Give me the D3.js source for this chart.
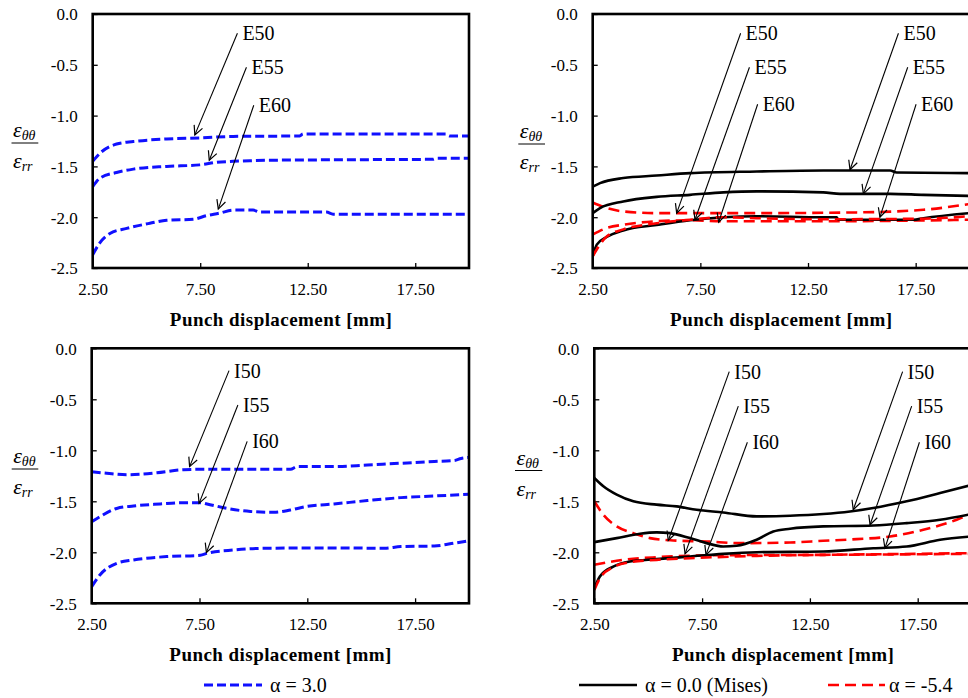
<!DOCTYPE html>
<html>
<head>
<meta charset="utf-8">
<script src="https://cdn.jsdelivr.net/npm/d3@7"></script>
<style>
  html, body { margin: 0; padding: 0; background: #fff; }
  svg { display: block; }
  svg text { font-family: "Liberation Serif", "DejaVu Serif", serif; }
</style>
</head>
<body>
<svg id="chart" width="968" height="698"></svg>
<script>
// ---------------- DATA ----------------
const xDomain = [2.5, 20];
const yDomain = [-2.5, 0];
const xTicks = [2.5, 7.5, 12.5, 17.5];
const yTicks = [0, -0.5, -1.0, -1.5, -2.0, -2.5];
const xTitle = "Punch displacement [mm]";
const legendLabels = ["α = 3.0", "α = 0.0 (Mises)", "α = -5.4"];
const labelsE = ["E50", "E55", "E60"];
const labelsI = ["I50", "I55", "I60"];

// Panel 1: E series, alpha = 3.0
const a3_E50 = [[2.5,-1.45],[2.84,-1.37],[3.61,-1.28],[4.39,-1.255],[5.94,-1.23],[7.48,-1.22],[9.03,-1.205],[12.13,-1.20],[12.28,-1.18],[13.68,-1.18],[18.94,-1.18],[19.09,-1.20],[20,-1.20]];
const a3_E55 = [[2.5,-1.70],[2.84,-1.615],[3.61,-1.56],[4.39,-1.527],[5.94,-1.50],[7.48,-1.485],[8.26,-1.46],[9.03,-1.45],[9.81,-1.445],[10.58,-1.44],[13.68,-1.435],[18.32,-1.43],[18.48,-1.42],[20,-1.42]];
const a3_E60 = [[2.5,-2.37],[2.84,-2.25],[3.30,-2.16],[4.08,-2.11],[5.16,-2.06],[5.94,-2.03],[7.17,-2.02],[7.79,-1.985],[8.41,-1.96],[9.03,-1.93],[9.96,-1.93],[10.27,-1.95],[13.37,-1.95],[13.68,-1.97],[20,-1.97]];

// Panel 2: E series, alpha = 0.0 (Mises) and alpha = -5.4
const a0_E50 = [[2.5,-1.70],[2.84,-1.665],[3.92,-1.615],[5.47,-1.59],[7.02,-1.566],[10.12,-1.55],[13.21,-1.54],[16.31,-1.54],[16.62,-1.56],[20,-1.566]];
const a0_E55 = [[2.5,-1.96],[2.84,-1.91],[3.92,-1.845],[5.47,-1.80],[7.02,-1.78],[8.57,-1.756],[10.12,-1.746],[13.21,-1.756],[13.99,-1.77],[16.31,-1.77],[17.86,-1.78],[20,-1.79]];
const a0_E60 = [[2.5,-2.385],[2.69,-2.27],[3.15,-2.195],[3.92,-2.13],[5.47,-2.077],[7.02,-2.03],[8.57,-2.0],[10.12,-1.99],[13.21,-2.0],[13.83,-2.0],[13.91,-2.025],[17.39,-2.025],[17.86,-2.01],[20,-1.96]];
const am54_E50 = [[2.5,-1.855],[3.15,-1.91],[3.92,-1.943],[5.47,-1.96],[7.02,-1.96],[10.12,-1.96],[14.76,-1.953],[17.86,-1.927],[20,-1.87]];
const am54_E55 = [[2.5,-2.17],[3.15,-2.107],[3.92,-2.074],[5.47,-2.04],[7.02,-2.03],[8.57,-2.04],[13.21,-2.04],[20,-2.025]];
const am54_E60 = [[2.5,-2.385],[3.15,-2.19],[3.92,-2.12],[5.47,-2.06],[7.02,-2.025],[8.57,-2.0],[10.12,-2.01],[13.21,-2.02],[17.86,-2.015],[20,-1.99]];

// Panel 3: I series, alpha = 3.0
const a3_I50 = [[2.5,-1.21],[3.20,-1.225],[4.13,-1.24],[4.75,-1.235],[5.52,-1.22],[6.76,-1.19],[7.54,-1.186],[10.64,-1.186],[11.72,-1.186],[12.03,-1.16],[13.74,-1.16],[15.29,-1.144],[16.84,-1.127],[18.39,-1.11],[19.32,-1.10],[19.63,-1.08],[20,-1.07]];
const a3_I55 = [[2.5,-1.70],[2.89,-1.65],[3.66,-1.57],[4.44,-1.546],[5.68,-1.526],[6.76,-1.513],[7.54,-1.513],[7.85,-1.526],[8.78,-1.57],[9.86,-1.60],[10.95,-1.608],[11.72,-1.585],[12.50,-1.55],[13.74,-1.526],[15.29,-1.493],[16.84,-1.464],[18.39,-1.448],[20,-1.43]];
const a3_I60 = [[2.5,-2.337],[2.89,-2.22],[3.66,-2.108],[4.44,-2.075],[5.99,-2.042],[7.54,-2.03],[7.85,-2.01],[9.09,-1.977],[10.64,-1.96],[13.74,-1.957],[16.07,-1.96],[16.84,-1.944],[18.39,-1.938],[19.32,-1.91],[20,-1.886]];

// Panel 4: I series, alpha = 0.0 (Mises) and alpha = -5.4
const a0_I50 = [[2.5,-1.271],[2.92,-1.353],[3.54,-1.435],[4.31,-1.50],[5.39,-1.533],[6.32,-1.55],[7.25,-1.583],[8.48,-1.609],[10.03,-1.648],[11.58,-1.642],[13.12,-1.625],[14.36,-1.60],[15.44,-1.566],[16.99,-1.50],[18.54,-1.419],[20,-1.34]];
const a0_I55 = [[2.5,-1.90],[3.54,-1.861],[4.62,-1.818],[5.39,-1.805],[6.01,-1.812],[6.94,-1.861],[7.71,-1.91],[8.48,-1.943],[9.10,-1.936],[10.03,-1.877],[10.80,-1.796],[11.58,-1.769],[13.12,-1.746],[15.44,-1.737],[16.99,-1.714],[18.54,-1.681],[20,-1.625]];
const a0_I60 = [[2.5,-2.353],[2.76,-2.238],[3.38,-2.14],[4.15,-2.09],[5.39,-2.067],[6.94,-2.041],[8.48,-2.015],[10.03,-1.999],[13.12,-1.992],[15.44,-1.96],[16.99,-1.943],[18.54,-1.877],[20,-1.845]];
const am54_I50 = [[2.5,-1.50],[2.92,-1.632],[3.54,-1.746],[4.31,-1.812],[5.08,-1.861],[6.16,-1.884],[7.71,-1.894],[9.25,-1.91],[11.58,-1.904],[13.12,-1.887],[14.67,-1.871],[16.22,-1.845],[17.76,-1.779],[19.31,-1.681],[20,-1.62]];
const am54_I55 = [[2.5,-2.123],[3.85,-2.074],[5.39,-2.048],[8.48,-2.028],[13.12,-2.025],[20,-2.015]];
const am54_I60 = [[2.5,-2.369],[2.76,-2.254],[3.38,-2.146],[4.15,-2.097],[5.39,-2.074],[6.94,-2.058],[10.03,-2.035],[13.12,-2.025],[16.22,-2.018],[20,-2.008]];

// Annotation arrows: [tailX, tailY, tipX, tipY] in data units
const arrows1 = [[9.23,-0.19,7.25,-1.19],[9.65,-0.524,7.92,-1.44],[9.99,-0.898,8.34,-1.92]];
const arrows2 = [[9.37,-0.19,6.40,-1.96],[9.78,-0.524,7.25,-2.025],[10.16,-0.888,8.35,-2.05],
                 [16.70,-0.19,14.45,-1.533],[17.13,-0.524,15.07,-1.77],[17.52,-0.888,15.84,-2.0]];
const arrows3 = [[8.87,-0.219,7.04,-1.16],[9.28,-0.556,7.48,-1.52],[9.71,-0.912,7.82,-2.003]];
const arrows4 = [[8.76,-0.229,5.93,-1.884],[9.18,-0.567,6.71,-2.015],[9.60,-0.921,7.68,-2.025],
                 [16.80,-0.229,14.51,-1.583],[17.22,-0.567,15.29,-1.73],[17.58,-0.921,15.98,-1.96]];

// ---------------- STYLES ----------------
const SERIF = "'Liberation Serif', 'DejaVu Serif', serif";
const styles = {
  blue:  { stroke: "#1010ff", width: 3,   dash: "9,4" },
  black: { stroke: "#000000", width: 2.6, dash: null },
  red:   { stroke: "#ff0000", width: 2.6, dash: "11,6" }
};

const panels = [
  { x0: 92.7, x1: 469,   y0: 14,    y1: 268,   frac: [11.5, 38.3, 143],
    series: [[a3_E50,"blue"],[a3_E55,"blue"],[a3_E60,"blue"]],
    arrows: arrows1, labels: labelsE },
  { x0: 592.7, x1: 969.5, y0: 14,   y1: 268,   frac: [518.3, 545, 144],
    series: [[am54_E50,"red"],[am54_E55,"red"],[a0_E50,"black"],[a0_E55,"black"],[a0_E60,"black"],[am54_E60,"red"]],
    arrows: arrows2, labels: labelsE.concat(labelsE) },
  { x0: 91.7, x1: 469,   y0: 348.3, y1: 603.3, frac: [11.7, 38.3, 469],
    series: [[a3_I50,"blue"],[a3_I55,"blue"],[a3_I60,"blue"]],
    arrows: arrows3, labels: labelsI },
  { x0: 594.3, x1: 971.6, y0: 348.3, y1: 603.3, frac: [515, 542.3, 470.5],
    series: [[am54_I50,"red"],[am54_I55,"red"],[a0_I50,"black"],[a0_I55,"black"],[a0_I60,"black"],[am54_I60,"red"]],
    arrows: arrows4, labels: labelsI.concat(labelsI) }
];

// ---------------- DRAW ----------------
const svg = d3.select("#chart");
const defs = svg.append("defs");
defs.append("marker")
  .attr("id", "ah")
  .attr("viewBox", "-10 -6 12 12")
  .attr("refX", 0).attr("refY", 0)
  .attr("markerWidth", 12).attr("markerHeight", 12)
  .attr("markerUnits", "userSpaceOnUse")
  .attr("orient", "auto")
  .append("path")
  .attr("d", "M-9,-4.5 L0,0 L-9,4.5")
  .attr("fill", "none").attr("stroke", "#000").attr("stroke-width", 1.2);

panels.forEach((p, i) => {
  const x = d3.scaleLinear().domain(xDomain).range([p.x0, p.x1]);
  const y = d3.scaleLinear().domain(yDomain).range([p.y1, p.y0]);
  const g = svg.append("g");

  defs.append("clipPath").attr("id", "clip" + i)
    .append("rect").attr("x", p.x0).attr("y", p.y0)
    .attr("width", p.x1 - p.x0).attr("height", p.y1 - p.y0);

  // axes with inside ticks
  const yAxis = d3.axisLeft(y).tickValues(yTicks).tickSizeInner(-5).tickSizeOuter(0)
    .tickPadding(15).tickFormat(d => d.toFixed(1));
  const xAxis = d3.axisBottom(x).tickValues(xTicks).tickSizeInner(-5).tickSizeOuter(0)
    .tickPadding(16).tickFormat(d => d.toFixed(2));

  const ya = g.append("g").attr("transform", `translate(${p.x0},0)`).call(yAxis);
  const xa = g.append("g").attr("transform", `translate(0,${p.y1})`).call(xAxis);
  [ya, xa].forEach(a => {
    a.attr("font-family", null).attr("font-size", null);
    a.select(".domain").remove();
    a.selectAll(".tick line").attr("stroke", "#000").attr("stroke-width", 1.3);
    a.selectAll(".tick text").style("font-family", SERIF)
      .style("font-size", "17px").attr("fill", "#000");
  });
  ya.selectAll(".tick text").attr("dy", "0.35em");
  xa.selectAll(".tick text").attr("dy", "0.62em");

  // series
  const line = d3.line().x(d => x(d[0])).y(d => y(d[1])).curve(d3.curveMonotoneX);
  const sg = g.append("g").attr("clip-path", `url(#clip${i})`);
  p.series.forEach(([data, st]) => {
    const s = styles[st];
    sg.append("path").datum(data).attr("d", line)
      .attr("fill", "none").attr("stroke", s.stroke)
      .attr("stroke-width", s.width)
      .attr("stroke-dasharray", s.dash)
      .attr("stroke-linejoin", "round");
  });

  // frame
  g.append("rect").attr("x", p.x0).attr("y", p.y0)
    .attr("width", p.x1 - p.x0).attr("height", p.y1 - p.y0)
    .attr("fill", "none").attr("stroke", "#000").attr("stroke-width", 2.6);

  // arrows and labels
  p.arrows.forEach((a, k) => {
    g.append("line")
      .attr("x1", x(a[0])).attr("y1", y(a[1]))
      .attr("x2", x(a[2])).attr("y2", y(a[3]))
      .attr("stroke", "#000").attr("stroke-width", 1.1)
      .attr("marker-end", "url(#ah)");
    g.append("text")
      .attr("x", x(a[0]) + 5).attr("y", y(a[1]) + 7)
      .style("font-family", SERIF).style("font-size", "20px").attr("fill", "#000")
      .text(p.labels[k]);
  });

  // x-axis title
  g.append("text")
    .attr("x", (p.x0 + p.x1) / 2).attr("y", p.y1 + 58)
    .attr("text-anchor", "middle")
    .style("font-family", SERIF).style("font-size", "19px").style("font-weight", "bold")
    .attr("textLength", 222).attr("lengthAdjust", "spacing")
    .text(xTitle);

  // y-axis label: fraction eps_thetatheta / eps_rr
  const [fx0, fx1, fy] = p.frac;
  const num = g.append("text").attr("x", fx0 + 1.5).attr("y", fy - 6)
    .style("font-family", SERIF).style("font-style", "italic").style("font-size", "22px");
  num.append("tspan").text("ε");
  num.append("tspan").style("font-size", "14px").attr("dy", 3).text("θθ");
  g.append("line").attr("x1", fx0).attr("x2", fx1).attr("y1", fy).attr("y2", fy)
    .attr("stroke", "#000").attr("stroke-width", 1);
  const den = g.append("text").attr("x", fx0 + 1.5).attr("y", fy + 25)
    .style("font-family", SERIF).style("font-style", "italic").style("font-size", "22px");
  den.append("tspan").text("ε");
  den.append("tspan").style("font-size", "14px").attr("dy", 3).text("rr");
});

// ---------------- LEGEND ----------------
const leg = svg.append("g");
const legY = 685;
const legendItems = [
  { x1: 204, x2: 262, tx: 270, st: "blue",  label: legendLabels[0] },
  { x1: 579, x2: 637, tx: 645, st: "black", label: legendLabels[1] },
  { x1: 828, x2: 885, tx: 889, st: "red",   label: legendLabels[2] }
];
legendItems.forEach(it => {
  const s = styles[it.st];
  leg.append("line").attr("x1", it.x1).attr("x2", it.x2).attr("y1", legY).attr("y2", legY)
    .attr("stroke", s.stroke).attr("stroke-width", s.width)
    .attr("stroke-dasharray", s.dash);
  leg.append("text").attr("x", it.tx).attr("y", legY + 7)
    .style("font-family", SERIF).style("font-size", "20px").attr("fill", "#000").text(it.label);
});
</script>
</body>
</html>
